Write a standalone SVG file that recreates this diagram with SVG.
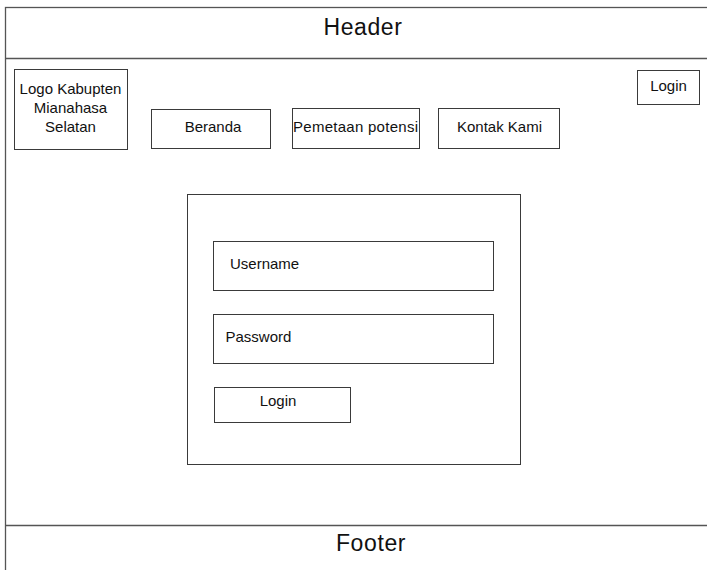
<svg xmlns="http://www.w3.org/2000/svg" width="707" height="570" viewBox="0 0 707 570">
<style>
.box{fill:#fff;stroke:#3a3a3a;stroke-width:1}
.frame{fill:none;stroke:#555;stroke-width:1.3}
text{font-family:"Liberation Sans",Arial,sans-serif;fill:#111}
.t{font-size:15px;text-anchor:middle}
.tl{font-size:15px}
.big{font-size:23px;text-anchor:middle;letter-spacing:0.6px}
</style>
<rect width="707" height="570" fill="#fff"/>
<g id="frame">
<rect class="frame" x="5.5" y="7.5" width="710" height="580"/>
</g>
<g id="header">
<line class="frame" x1="5.5" y1="58.5" x2="707" y2="58.5"/>
<text class="big" x="363" y="35">Header</text>
</g>
<g id="footer">
<line class="frame" x1="5.5" y1="525.5" x2="707" y2="525.5"/>
<text class="big" x="371" y="551">Footer</text>
</g>
<g id="logo">
<rect class="box" x="14.5" y="69.5" width="113" height="80"/>
<text class="t" x="70.5" y="94">Logo Kabupten</text>
<text class="t" x="70.5" y="112.5">Mianahasa</text>
<text class="t" x="70.5" y="131.5">Selatan</text>
</g>
<g id="beranda">
<rect class="box" x="151.5" y="109.5" width="119" height="39"/>
<text class="t" x="213" y="132">Beranda</text>
</g>
<g id="pemetaan">
<rect class="box" x="292.5" y="108.5" width="127" height="40"/>
<text class="t" x="355.5" y="132" textLength="125" lengthAdjust="spacing">Pemetaan potensi</text>
</g>
<g id="kontak">
<rect class="box" x="438.5" y="108.5" width="121" height="40"/>
<text class="t" x="499.5" y="132">Kontak Kami</text>
</g>
<g id="login-top">
<rect class="box" x="637.5" y="70.5" width="62" height="34"/>
<text class="t" x="668.5" y="90.5">Login</text>
</g>
<g id="login-panel">
<rect class="box" x="187.5" y="194.5" width="333" height="270"/>
</g>
<g id="username">
<rect class="box" x="213.5" y="241.5" width="280" height="49"/>
<text class="tl" x="230" y="269">Username</text>
</g>
<g id="password">
<rect class="box" x="213.5" y="314.5" width="280" height="49"/>
<text class="tl" x="225.5" y="342">Password</text>
</g>
<g id="login-button">
<rect class="box" x="214.5" y="387.5" width="136" height="35"/>
<text class="t" x="278" y="406">Login</text>
</g>
<g id="connectors"></g>
</svg>
